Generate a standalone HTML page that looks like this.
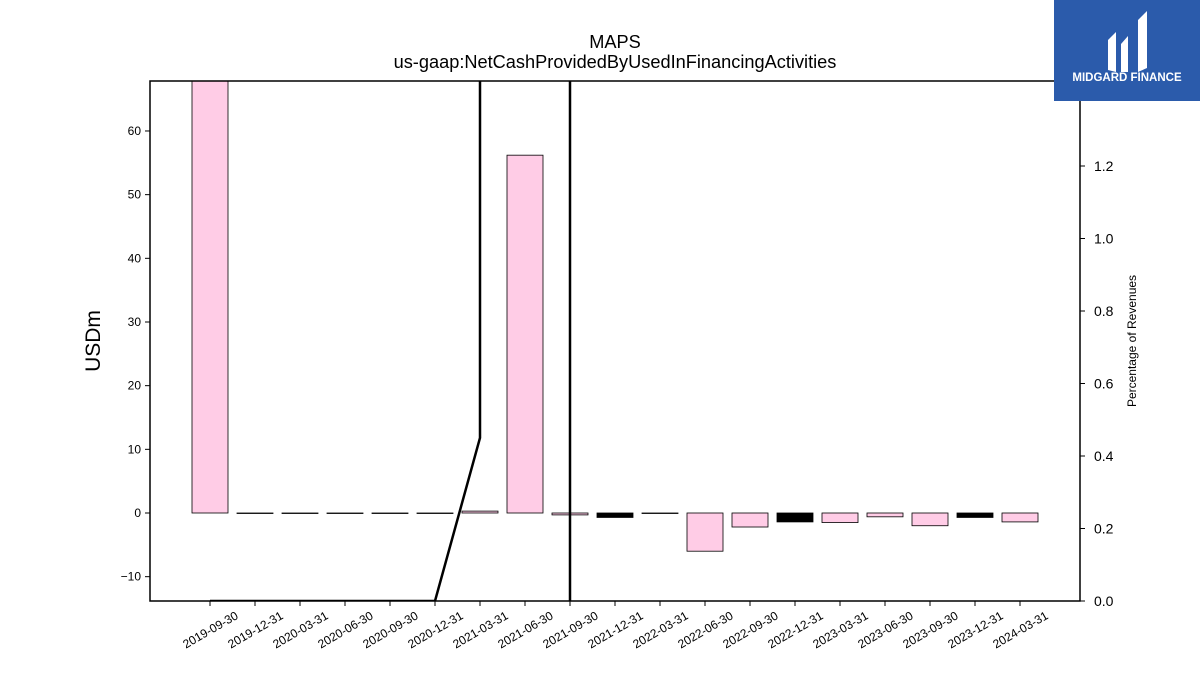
<!DOCTYPE html>
<html><head><meta charset="utf-8"><style>
html,body{margin:0;background:#fff;overflow:hidden;width:1200px;height:675px;}
svg{display:block;font-family:"Liberation Sans","DejaVu Sans",sans-serif;}
</style></head><body>
<svg id="chart" width="1200" height="675" viewBox="0 0 1200 675" xmlns="http://www.w3.org/2000/svg">
<text x="615" y="48" font-size="18.2" text-anchor="middle">MAPS</text>
<text x="615" y="68" font-size="18.2" text-anchor="middle">us-gaap:NetCashProvidedByUsedInFinancingActivities</text>
<text transform="translate(100,341) rotate(-90)" font-size="21" text-anchor="middle">USDm</text>
<text transform="translate(1136,341) rotate(-90)" font-size="12" text-anchor="middle">Percentage of Revenues</text>
<g id="bars"></g>
<g id="line"></g>
<g id="axes"></g>
<rect x="150" y="81" width="930" height="520" fill="none" stroke="#000" stroke-width="1.5"/>
<g>
<rect x="1054" y="0" width="146" height="101" fill="#2b5bab"/>
<path d="M1108 40 L1116 32 L1116 72 L1108 70 Z M1121 44 L1128 36 L1128 72 L1121 72 Z M1138 20 L1147 11 L1147 68 L1138 72 Z" fill="#fff"/>
<text x="1127" y="81" font-size="11.5" font-weight="bold" fill="#fff" text-anchor="middle">MIDGARD FINANCE</text>
</g>
</svg>
<script>
const categories=["2019-09-30","2019-12-31","2020-03-31","2020-06-30","2020-09-30","2020-12-31","2021-03-31","2021-06-30","2021-09-30","2021-12-31","2022-03-31","2022-06-30","2022-09-30","2022-12-31","2023-03-31","2023-06-30","2023-09-30","2023-12-31","2024-03-31"];
const barValues=[100,0,0,0,0,0,0.3,56.2,-0.3,-0.7,0,-6.0,-2.2,-1.4,-1.5,-0.6,-2.0,-0.7,-1.4];
const barDark=[0,0,0,0,0,0,0,0,0,1,0,0,0,1,0,0,0,1,0];
const lineIdx=[0,1,2,3,4,5,6,6,8,8];
const lineVals=[0,0,0,0,0,0,0.45,50,50,-50];
const leftTicks=[-10,0,10,20,30,40,50,60];
const rightTicks=[0.0,0.2,0.4,0.6,0.8,1.0,1.2];
const NS="http://www.w3.org/2000/svg";
const X0=150,X1=1080,Y0=81,Y1=601;
function xs(i){return 210+i*45;}
function yL(v){return 513-v*6.367;}
function yR(v){return 601-v*362.5;}
function mk(t,a,p){const e=document.createElementNS(NS,t);for(const k in a)e.setAttribute(k,a[k]);p.appendChild(e);return e;}
const bars=document.getElementById('bars');
const clip=mk('clipPath',{id:'pc'},document.getElementById('chart'));
mk('rect',{x:X0,y:Y0,width:X1-X0,height:Y1-Y0},clip);
bars.setAttribute('clip-path','url(#pc)');
barValues.forEach((v,i)=>{
  const y=Math.min(yL(v),yL(0)),h=Math.max(Math.abs(yL(v)-yL(0)),0.5);
  const r=mk('rect',{x:xs(i)-18,y:y,width:36,height:h,fill:barDark[i]?'#000':'#ffcce6',stroke:'#000','stroke-width':0.8},bars);
  
  
});
const lg=document.getElementById('line');
lg.setAttribute('clip-path','url(#pc)');
const pts=lineIdx.map((ix,k)=>xs(ix)+','+yR(lineVals[k])).join(' ');
const pl=mk('polyline',{points:pts,fill:'none',stroke:'#000','stroke-width':2.5},lg);


const ax=document.getElementById('axes');
leftTicks.forEach(t=>{
  const y=yL(t);
  mk('line',{x1:X0-5,x2:X0,y1:y,y2:y,stroke:'#000'},ax);
  const tx=mk('text',{x:X0-9,y:y+4,'font-size':12,'text-anchor':'end'},ax);
  tx.textContent=t<0?'\u2212'+Math.abs(t):t;
  
  
});
rightTicks.forEach(t=>{
  const y=yR(t);
  mk('line',{x1:X1,x2:X1+5,y1:y,y2:y,stroke:'#000'},ax);
  const tx=mk('text',{x:X1+14,y:y+5,'font-size':14},ax);
  tx.textContent=t.toFixed(1);
  
  
});
categories.forEach((c,i)=>{
  const x=xs(i);
  mk('line',{x1:x,x2:x,y1:Y1,y2:Y1+5,stroke:'#000'},ax);
  const tx=mk('text',{x:0,y:0,'font-size':12,'text-anchor':'end',transform:'translate('+(x+29)+','+(Y1+17)+') rotate(-30)'},ax);
  tx.textContent=c;
  
  
});
</script>
</body></html>
